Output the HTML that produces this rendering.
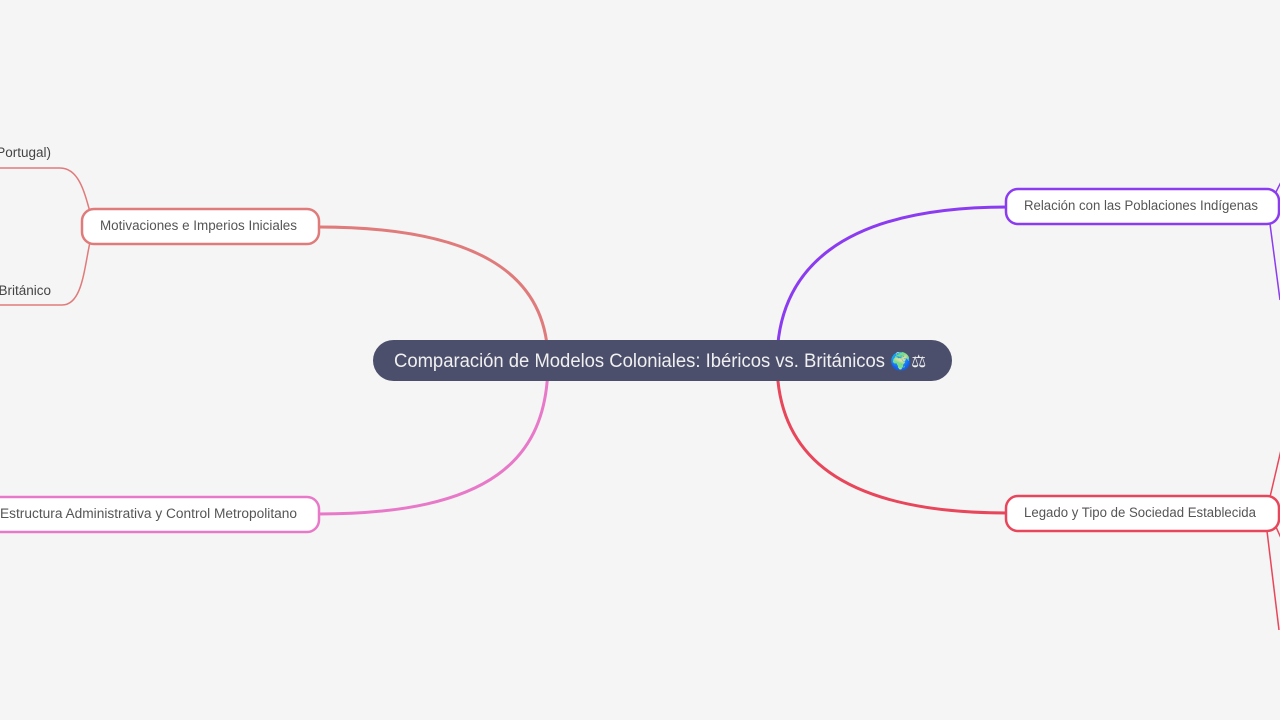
<!DOCTYPE html>
<html><head><meta charset="utf-8"><style>
html,body{margin:0;padding:0;background:#f5f5f5;width:1280px;height:720px;overflow:hidden}
svg{display:block}
text{font-family:"Liberation Sans",sans-serif}
</style></head><body>
<svg width="1280" height="720" viewBox="0 0 1280 720" xmlns="http://www.w3.org/2000/svg">
<rect width="1280" height="720" fill="#f5f5f5"/>
<g fill="none" stroke-width="3">
<path d="M548,362 C548,270 470,227 318,227" stroke="#e07b7b"/>
<path d="M548,362 C548,460 490,514 318,514" stroke="#e879c9"/>
<path d="M777,362 C777,270 840,207 1008,207" stroke="#8b3cf0"/>
<path d="M777,362 C777,455 840,513 1008,513" stroke="#e8465a"/>
</g>
<g fill="none" stroke-width="1.5">
<path d="M90,212 C84,190 78,168 60,168 L0,168" stroke="#e07b7b"/>
<path d="M90,242 C84,270 82,305 62,305 L0,305" stroke="#e07b7b"/>
<path d="M1276,192 L1281,182" stroke="#8b3cf0"/>
<path d="M1270,224 L1280,300" stroke="#8b3cf0"/>
<path d="M1270,497 L1281,450" stroke="#e8465a"/>
<path d="M1276,527 L1281,538" stroke="#e8465a"/>
<path d="M1267,531 L1279,630" stroke="#e8465a"/>
</g>
<rect x="373" y="340" width="579" height="41" rx="20.5" fill="#4b4f6b"/>
<text x="394" y="367" font-size="19" fill="#f0f0f0"><tspan textLength="491" lengthAdjust="spacingAndGlyphs">Comparación de Modelos Coloniales: Ibéricos vs. Británicos</tspan><tspan x="890" font-family="DejaVu Sans" font-size="17">🌍⚖</tspan></text>
<rect x="82" y="209" width="237" height="35" rx="12" fill="#fff" stroke="#e07b7b" stroke-width="2.5"/>
<text x="100" y="230" font-size="13.5" fill="#555" textLength="197" lengthAdjust="spacingAndGlyphs">Motivaciones e Imperios Iniciales</text>
<rect x="-20" y="497" width="339" height="35" rx="12" fill="#fff" stroke="#e879c9" stroke-width="2.5"/>
<text x="0" y="518" font-size="13.5" fill="#555" textLength="297" lengthAdjust="spacingAndGlyphs">Estructura Administrativa y Control Metropolitano</text>
<rect x="1006" y="189" width="273" height="35" rx="12" fill="#fff" stroke="#8b3cf0" stroke-width="2.5"/>
<text x="1024" y="210" font-size="13.5" fill="#555" textLength="234" lengthAdjust="spacingAndGlyphs">Relación con las Poblaciones Indígenas</text>
<rect x="1006" y="496" width="273" height="35" rx="12" fill="#fff" stroke="#e8465a" stroke-width="2.5"/>
<text x="1024" y="517" font-size="13.5" fill="#555" textLength="232" lengthAdjust="spacingAndGlyphs">Legado y Tipo de Sociedad Establecida</text>
<text x="51" y="157" font-size="13.5" fill="#444" text-anchor="end">Portugal)</text>
<text x="51" y="295" font-size="13.5" fill="#444" text-anchor="end">Británico</text>
</svg>
</body></html>
